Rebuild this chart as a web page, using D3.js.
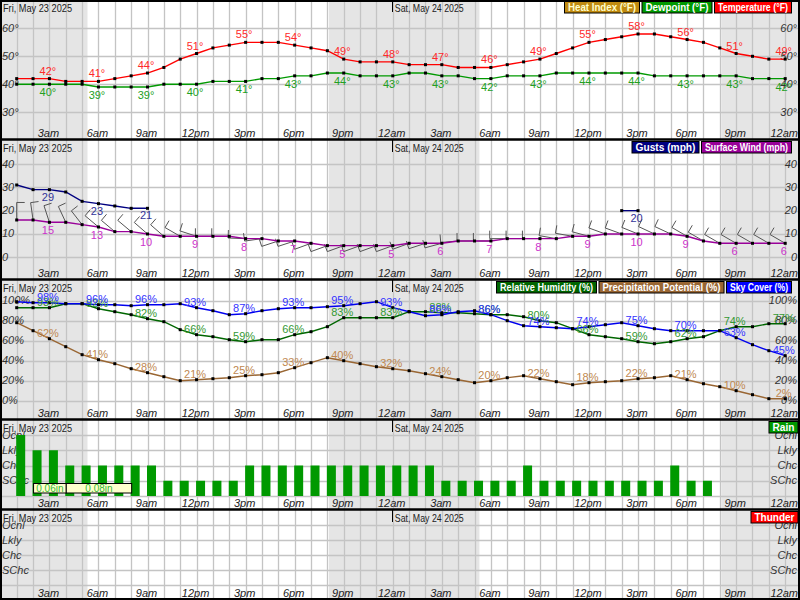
<!DOCTYPE html>
<html><head><meta charset="utf-8">
<script src="https://cdn.jsdelivr.net/npm/d3@7"></script>
<style>
body{margin:0;padding:0;background:#fff;}
svg{display:block;font-family:Arial,"Liberation Sans",sans-serif;}
</style></head><body>
<svg id="chart" width="800" height="600"></svg>
<script>
// ---------------- DATA ----------------
const hours = d3.range(1, 49); // 1am Fri .. 12am Sun
const tickHours = [3,6,9,12,15,18,21,24,27,30,33,36,39,42,45,48];
const tickLabels = ["3am","6am","9am","12pm","3pm","6pm","9pm","12am","3am","6am","9am","12pm","3pm","6pm","9pm","12am"];
const dayLabels = ["Fri, May 23 2025", "Sat, May 24 2025"];
const dayStartHours = [0, 24];
const nightStart = [0, 20.1, 44.1];
const nightEnd = [5.33, 29.3, 49];

const temperature = [42,42,42,41,41,41,42,43,44,46,49,51,53,54,55,55,55,54,53,52,49,48,48,48,
                     47,47,47,46,46,46,47,48,49,51,53,55,56,57,58,58,57,56,55,53,51,50,49,49];
const dewpoint    = [40,40,40,40,40,39,39,39,39,40,40,40,41,41,41,42,42,43,43,44,44,43,43,43,
                     44,44,43,43,42,42,43,43,43,44,44,44,44,44,44,43,43,43,43,43,43,42,42,42];
const gusts       = [31,29,29,28,24,23,22,21,21,null,null,null,null,null,null,null,null,null,null,null,null,null,null,null,
                     null,null,null,null,null,null,null,null,null,null,null,null,null,20,20,null,null,null,null,null,null,null,null,null];
const surfaceWind = [16,16,15,15,14,13,11,11,10,9,9,9,9,9,8,8,7,7,6,5,5,5,5,5,
                     6,6,6,7,7,7,8,8,8,8,9,9,10,10,10,10,10,9,7,6,6,6,6,6];
const windDirection = [0,352,342,335,322,310,310,310,311,311,300,288,270,270,272,262,252,252,250,250,250,250,250,250,
                       250,252,255,265,270,270,270,270,270,280,280,285,290,290,292,295,295,300,300,300,300,300,300,300];
const skyCover    = [99,98,98,97,97,96,96,95,96,96,97,93,90,86,87,90,92,93,93,94,95,97,99,93,
                     89,85,86,89,90,86,80,75,74,73,72,74,76,78,75,72,70,70,70,70,63,56,50,45];
const humidity    = [93,93,93,97,97,92,89,86,82,79,71,66,64,61,59,61,61,66,69,74,83,83,83,83,
                     89,89,88,88,87,86,86,84,80,78,72,66,64,62,59,57,59,62,64,70,74,74,77,77];
const precipPotential = [78,70,62,54,46,41,37,32,28,24,20,21,22,23,25,26,28,33,38,43,40,37,34,32,
                         30,27,24,21,18,20,23,25,22,19,16,18,19,20,22,23,25,21,17,14,10,6,2,2];
const chanceCategories = ["SChc","Chc","Lkly","Ocnl"]; // levels 1..4
const rainLevels  = [4,3,3,2,2,2,2,2,2,1,1,1,1,1,2,2,2,2,2,2,2,2,2,2,
                     2,2,1,1,1,1,1,2,1,1,1,1,1,1,1,1,2,1,1,0,0,0,0,0];
const thunderLevels = hours.map(() => 0);
const qpfStartHours = [2, 4];
const qpfEndHours   = [4, 8];
const qpfAmounts    = [0.06, 0.08];

// ---------------- LAYOUT ----------------
const svg = d3.select("#chart");
const x = d3.scaleLinear().domain([0, 48]).range([0.35, 785.2]);
const panels = [
  {top:0, bottom:140}, {top:140, bottom:280}, {top:280, bottom:420},
  {top:420, bottom:510}, {top:510, bottom:600}
];
const yT = d3.scaleLinear().domain([30, 60]).range([112.1, 28.4]);
const yW = d3.scaleLinear().domain([0, 40]).range([257.3, 164]);
const yP = d3.scaleLinear().domain([0, 100]).range([400.7, 300.7]);
const yR = d3.scaleLinear().domain([0, 4]).range([496, 435]);
const yTh = d3.scaleLinear().domain([0, 4]).range([585, 525]);

const gridColor = "#c4c4c4";
const defs = svg.append("defs");
panels.forEach((p, i) => {
  defs.append("clipPath").attr("id", "clip" + i)
    .append("rect").attr("x", 0).attr("y", p.top).attr("width", 800).attr("height", p.bottom - p.top);
});

function panelBase(i, yTicks, yScale, yFmt) {
  const p = panels[i];
  const g = svg.append("g").attr("clip-path", `url(#clip${i})`);
  g.selectAll(".night").data(nightStart).enter().append("rect")
    .attr("x", (d) => Math.max(0, x(d)))
    .attr("width", (d, k) => Math.min(800, x(nightEnd[k])) - Math.max(0, x(d)))
    .attr("y", p.top).attr("height", p.bottom - p.top).attr("fill", "#e5e5e5");
  g.selectAll(".vg").data(hours).enter().append("line")
    .attr("x1", (d) => Math.round(x(d)) + 0.5).attr("x2", (d) => Math.round(x(d)) + 0.5)
    .attr("y1", p.top).attr("y2", p.bottom)
    .attr("stroke", gridColor).attr("stroke-width", 1.3);
  g.selectAll(".hg").data(yTicks).enter().append("line")
    .attr("x1", 0).attr("x2", 800)
    .attr("y1", (d) => Math.round(yScale(d)) + 0.5).attr("y2", (d) => Math.round(yScale(d)) + 0.5)
    .attr("stroke", gridColor).attr("stroke-width", 1.3);
  g.selectAll(".day").data(dayLabels).enter().append("text")
    .attr("x", (d, k) => k === 0 ? 3 : x(dayStartHours[k]) + 2)
    .attr("y", p.top + 11.5).attr("font-size", 11).attr("fill", "#222")
    .attr("textLength", 69).attr("lengthAdjust", "spacingAndGlyphs")
    .text((d) => d);
  g.append("line").attr("x1", Math.round(x(24)) - 0.5).attr("x2", Math.round(x(24)) - 0.5)
    .attr("y1", p.top).attr("y2", p.top + 12).attr("stroke", "#000").attr("stroke-width", 1);
  g.selectAll(".xt").data(tickHours).enter().append("text")
    .attr("x", (d) => x(d) - 1).attr("y", p.bottom - 3.5)
    .attr("text-anchor", "middle").attr("font-size", 11).attr("font-style", "italic").attr("fill", "#222")
    .text((d, k) => tickLabels[k]);
  const labTicks = yFmt.ticks || yTicks;
  g.selectAll(".yl").data(labTicks).enter().append("text")
    .attr("x", 2).attr("y", (d) => yScale(d) + 3.5)
    .attr("font-size", 11).attr("font-style", "italic").attr("fill", "#333")
    .text((d) => yFmt.f(d));
  g.selectAll(".yr").data(labTicks).enter().append("text")
    .attr("x", 797).attr("y", (d) => yScale(d) + 3.5).attr("text-anchor", "end")
    .attr("font-size", 11).attr("font-style", "italic").attr("fill", "#333")
    .text((d) => yFmt.f(d));
  return g;
}

function drawSeries(g, data, yScale, color, width) {
  const line = d3.line().defined((d) => d != null)
    .x((d, k) => x(hours[k])).y((d) => yScale(d));
  g.append("path").datum(data).attr("d", line)
    .attr("fill", "none").attr("stroke", color).attr("stroke-width", width || 1.4);
}
function drawPoints(g, data, yScale) {
  const pts = data.map((v, k) => ({h: hours[k], v})).filter((d) => d.v != null);
  g.selectAll(null).data(pts).enter().append("rect")
    .attr("x", (d) => x(d.h) - 1.5).attr("y", (d) => yScale(d.v) - 1.5)
    .attr("width", 3).attr("height", 3).attr("fill", "#000");
}
function drawLabels(g, data, yScale, color, dy, suffix) {
  const pts = tickHours.map((h) => ({h, v: data[h - 1]})).filter((d) => d.v != null);
  g.selectAll(null).data(pts).enter().append("text")
    .attr("x", (d) => x(d.h) - 1.5).attr("y", (d) => yScale(d.v) + dy)
    .attr("text-anchor", "middle").attr("font-size", 11).attr("fill", color)
    .text((d) => d.v + suffix);
}
function drawLegend(entries, right, top) {
  let xr = right;
  const g = svg.append("g");
  entries.slice().reverse().forEach((e) => {
    const x0 = xr - e.w;
    g.append("rect").attr("x", x0 + 0.5).attr("y", top + 0.5).attr("width", e.w - 1).attr("height", 11.5)
      .attr("fill", e.bg).attr("stroke", "#000").attr("stroke-width", 1);
    g.append("text").attr("x", x0 + e.w / 2).attr("y", top + 10)
      .attr("text-anchor", "middle").attr("font-size", 10.5).attr("font-weight", "bold")
      .attr("fill", e.fg || "#fff").attr("textLength", e.w - 8).attr("lengthAdjust", "spacingAndGlyphs")
      .text(e.t);
    xr = x0 - 1.5;
  });
}

// ---------- Panel 1: temperature ----------
const g1 = panelBase(0, [30,40,50,60], yT, {f: (d) => d + "°"});
drawSeries(g1, dewpoint, yT, "#009900");
drawSeries(g1, temperature, yT, "#ff0000");
drawPoints(g1, dewpoint, yT);
drawPoints(g1, temperature, yT);
drawLabels(g1, temperature, yT, "#ff2a2a", -4, "°");
drawLabels(g1, dewpoint, yT, "#22a022", 12, "°");

// ---------- Panel 2: wind ----------
const g2 = panelBase(1, [0,10,20,30,40], yW, {f: (d) => d});
const barbs = hours.map((h, k) => {
  const px = x(h), py = yW(surfaceWind[k]);
  const r = windDirection[k] * Math.PI / 180;
  const dx = Math.sin(r), dy = -Math.cos(r);
  const L = 17.5, F = 8;
  const tx = px + dx * L, ty = py + dy * L;
  const fx = tx - dy * F, fy = ty + dx * F;
  return `M${px},${py}L${tx},${ty}L${fx},${fy}`;
});
g2.selectAll(".barb").data(barbs).enter().append("path")
  .attr("d", (d) => d).attr("fill", "none").attr("stroke", "#555").attr("stroke-width", 1);
drawSeries(g2, gusts, yW, "#000080");
drawSeries(g2, surfaceWind, yW, "#990099");
drawPoints(g2, gusts, yW);
drawPoints(g2, surfaceWind, yW);
drawLabels(g2, gusts, yW, "#333399", 11, "");
drawLabels(g2, surfaceWind, yW, "#cc33cc", 12, "");

// ---------- Panel 3: humidity / precip / sky ----------
const g3 = panelBase(2, [0,20,40,60,80,100], yP, {f: (d) => d + "%"});
drawSeries(g3, precipPotential, yP, "#996633");
drawSeries(g3, humidity, yP, "#006600");
drawSeries(g3, skyCover, yP, "#0000ee");
drawPoints(g3, precipPotential, yP);
drawPoints(g3, humidity, yP);
drawPoints(g3, skyCover, yP);
drawLabels(g3, precipPotential, yP, "#c08850", -2, "%");
drawLabels(g3, humidity, yP, "#339933", -2, "%");
drawLabels(g3, skyCover, yP, "#3333ff", -2, "%");

// ---------- Panel 4: rain ----------
const catFmt = {f: (d) => chanceCategories[d - 1], ticks: [1,2,3,4]};
const g4 = panelBase(3, [0,1,2,3,4], yR, catFmt);
const rainPts = rainLevels.map((v, k) => ({h: hours[k], v})).filter((d) => d.v > 0);
g4.selectAll(".bar").data(rainPts).enter().append("rect")
  .attr("x", (d) => x(d.h) - 0.5).attr("width", 9)
  .attr("y", (d) => yR(d.v)).attr("height", (d) => yR(0) - yR(d.v))
  .attr("fill", "#009900");
qpfAmounts.forEach((a, k) => {
  g4.append("rect").attr("x", x(qpfStartHours[k]) + 0.5).attr("y", 483.5)
    .attr("width", x(qpfEndHours[k]) - x(qpfStartHours[k])).attr("height", 9.5)
    .attr("fill", "#ffffcc").attr("stroke", "#000").attr("stroke-width", 1);
  g4.append("text").attr("x", (x(qpfStartHours[k]) + x(qpfEndHours[k])) / 2 + 0.5).attr("y", 491.5)
    .attr("text-anchor", "middle").attr("font-size", 10).attr("fill", "#33bb33")
    .text(a.toFixed(2) + "in");
});

// ---------- Panel 5: thunder ----------
const g5 = panelBase(4, [0,1,2,3,4], yTh, catFmt);
const thPts = thunderLevels.map((v, k) => ({h: hours[k], v})).filter((d) => d.v > 0);
g5.selectAll(".bar").data(thPts).enter().append("rect")
  .attr("x", (d) => x(d.h) - 0.5).attr("width", 9)
  .attr("y", (d) => yTh(d.v)).attr("height", (d) => yTh(0) - yTh(d.v)).attr("fill", "#ff0000");

// ---------- Frames ----------
svg.append("rect").attr("x", 1).attr("y", 1).attr("width", 798).attr("height", 598)
  .attr("fill", "none").attr("stroke", "#000").attr("stroke-width", 2);
[140, 280, 420, 510].forEach((yb) => {
  svg.append("line").attr("x1", 0).attr("x2", 800).attr("y1", yb - 0.5).attr("y2", yb - 0.5)
    .attr("stroke", "#000").attr("stroke-width", 2.5);
});

// ---------- Legends (on top of frames) ----------
drawLegend([
  {t: "Heat Index (°F)", bg: "#c08a10", fg: "#ffffcc", w: 76},
  {t: "Dewpoint (°F)", bg: "#009900", w: 71},
  {t: "Temperature (°F)", bg: "#ff0000", w: 78}
], 792, 1);
drawLegend([
  {t: "Gusts (mph)", bg: "#000080", w: 68},
  {t: "Surface Wind (mph)", bg: "#990099", w: 91}
], 792, 141);
drawLegend([
  {t: "Relative Humidity (%)", bg: "#006600", w: 101},
  {t: "Precipitation Potential (%)", bg: "#996633", w: 126},
  {t: "Sky Cover (%)", bg: "#0000ff", w: 66}
], 792, 281);
drawLegend([{t: "Rain", bg: "#009900", w: 30}], 798.5, 421);
drawLegend([{t: "Thunder", bg: "#ff0000", w: 48}], 798.5, 511);
</script>
</body></html>
